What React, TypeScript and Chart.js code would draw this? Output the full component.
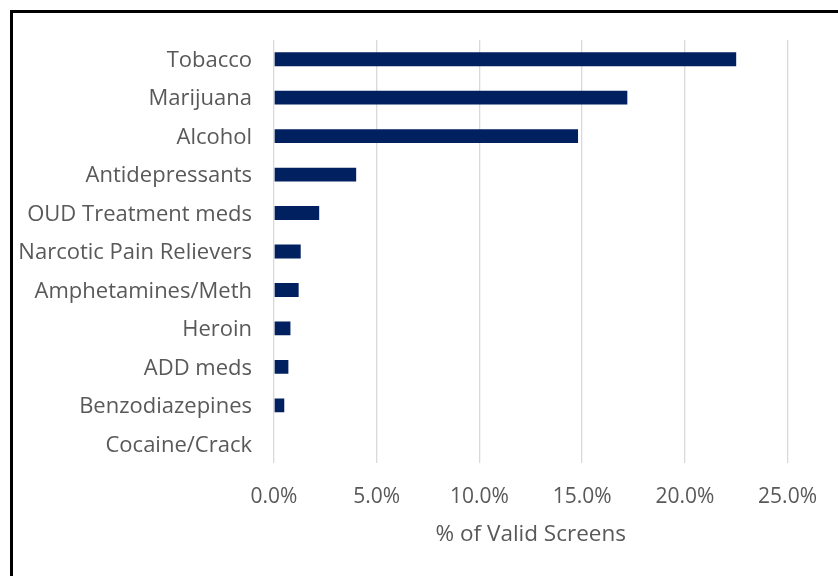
import React, { useEffect, useRef } from "react";
import { Chart, registerables } from "chart.js";

Chart.register(...registerables);

const categories = [
  "Tobacco",
  "Marijuana",
  "Alcohol",
  "Antidepressants",
  "OUD Treatment meds",
  "Narcotic Pain Relievers",
  "Amphetamines/Meth",
  "Heroin",
  "ADD meds",
  "Benzodiazepines",
  "Cocaine/Crack",
];
const values = [22.5, 17.2, 14.8, 4.0, 2.2, 1.3, 1.2, 0.8, 0.7, 0.5, 0.0];
const xTicks = [0, 5, 10, 15, 20, 25];
const axisTitle = "% of Valid Screens";

const FONT = "'Open Sans', 'Noto Sans', sans-serif";
const TEXT = "#595959";

export default function App() {
  const ref = useRef<HTMLCanvasElement | null>(null);

  useEffect(() => {
    document.body.style.margin = "0";
    const canvas = ref.current;
    if (!canvas) return;
    const chart = new Chart(canvas, {
      type: "bar",
      data: {
        labels: categories,
        datasets: [
          {
            data: values,
            backgroundColor: "#002060",
            borderWidth: 0,
            barPercentage: 0.36,
            categoryPercentage: 1,
          },
        ],
      },
      options: {
        indexAxis: "y",
        animation: false,
        responsive: false,
        maintainAspectRatio: false,
        layout: { padding: { top: 40, right: 50, left: 0, bottom: 28 } },
        plugins: { legend: { display: false }, tooltip: { enabled: false } },
        scales: {
          x: {
            min: 0,
            max: 25,
            afterBuildTicks: (s: any) => {
              s.ticks = xTicks.map((v) => ({ value: v }));
            },
            afterFit: (s: any) => {
              s.height = 576 - 28 - 463;
            },
            grid: { color: "#d9d9d9", lineWidth: 1.3, drawTicks: false },
            border: { display: false },
            ticks: {
              padding: 21,
              color: TEXT,
              font: { family: FONT, size: 21 },
              callback: (v: any) => Number(v).toFixed(1) + "%",
            },
            title: {
              display: true,
              text: axisTitle,
              color: TEXT,
              font: { family: FONT, size: 22.5 },
              padding: { top: 0, bottom: 0 },
            },
          },
          y: {
            afterFit: (s: any) => {
              s.width = 274;
            },
            grid: { display: false, drawTicks: false },
            border: { display: false },
            ticks: {
              padding: 22,
              labelOffset: 1.5,
              color: TEXT,
              font: { family: FONT, size: 22 },
            },
          },
        },
      },
    });
    return () => chart.destroy();
  }, []);

  return (
    <div style={{ position: "relative", width: 838, height: 576, overflow: "hidden", background: "#fff" }}>
      <canvas ref={ref} width={838} height={576} style={{ position: "absolute", left: 0, top: 0 }} />
      <div
        style={{
          position: "absolute",
          left: 10,
          top: 10,
          width: 900,
          height: 700,
          borderTop: "3px solid #000",
          borderLeft: "3px solid #000",
          pointerEvents: "none",
        }}
      />
    </div>
  );
}
